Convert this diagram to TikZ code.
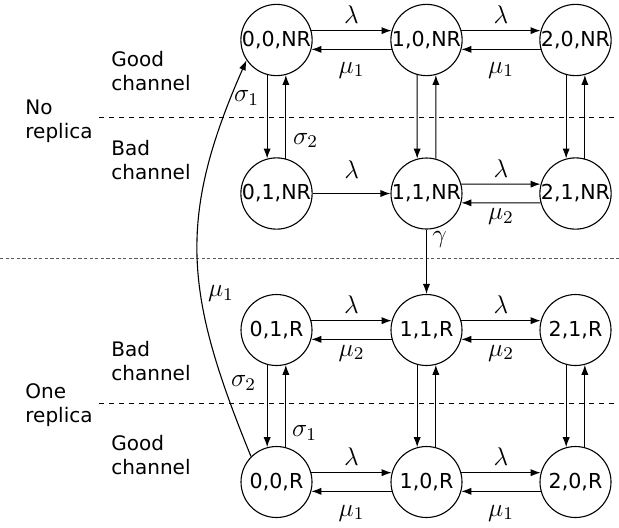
\RequirePackage{fix-cm}
\documentclass[tikz,border=0pt]{standalone}
\usepackage[no-math]{fontspec}
\setmainfont{DejaVu Sans}
\usetikzlibrary{arrows.meta}
\begin{document}
\begin{tikzpicture}[x=0.5pt,y=-0.5pt,
  st/.style={circle, draw, line width=0.55pt, minimum size=35.5pt, inner sep=0pt, font=\fontsize{10.3}{12}\selectfont},
  tr/.style={line width=0.55pt, -{Latex[length=5pt,width=3.6pt]}},
  lab/.style={inner sep=0pt, font=\fontsize{12.8}{15}\selectfont},
  side/.style={align=left, anchor=west, inner sep=0pt, font=\fontsize{10}{12}\selectfont},
  sepline/.style={line width=0.5pt, dash pattern=on 2.5pt off 2.5pt},
  midline/.style={gray!70!black, line width=0.5pt, dash pattern=on 1.6pt off 1.2pt}]
\useasboundingbox (0,0) rectangle (619,527);

% separators
\draw[sepline] (99,117) -- (619,117);
\draw[sepline] (99,403) -- (619,403);
\draw[midline] (0,258) -- (619,258);

% side texts
\node[side] (tnr) at (25,121) {No\\replica};
\node[side] (tgt) at (111,71) {Good\\channel};
\node[side] (tbt) at (111,160) {Bad\\channel};
\node[side] (tor) at (25,405) {One\\replica};
\node[side] (tbb) at (111,361) {Bad\\channel};
\node[side] (tgb) at (111,455) {Good\\channel};

% states
\node[st] (n00nr) at (276.5,40) {0,0,NR};
\node[st] (n10nr) at (426.5,40) {1,0,NR};
\node[st] (n20nr) at (575.5,40) {2,0,NR};
\node[st] (n01nr) at (276.5,193.5) {0,1,NR};
\node[st] (n11nr) at (426.5,193.5) {1,1,NR};
\node[st] (n21nr) at (575.5,193.5) {2,1,NR};
\node[st] (n01r) at (276.5,330) {0,1,R};
\node[st] (n11r) at (426.5,330) {1,1,R};
\node[st] (n21r) at (575.5,330) {2,1,R};
\node[st] (n00r) at (276.5,482) {0,0,R};
\node[st] (n10r) at (426.5,482) {1,0,R};
\node[st] (n20r) at (575.5,482) {2,0,R};

% row 1
\draw[tr] (n00nr.15) -- (n10nr.165);
\draw[tr] (n10nr.195) -- (n00nr.345);
\path (n00nr) -- node[lab, yshift=12.5pt] {$\lambda$} (n10nr);
\path (n00nr) -- node[lab, yshift=-15pt] {$\mu_1$} (n10nr);
\draw[tr] (n10nr.15) -- (n20nr.165);
\draw[tr] (n20nr.195) -- (n10nr.345);
\path (n10nr) -- node[lab, yshift=12.5pt] {$\lambda$} (n20nr);
\path (n10nr) -- node[lab, yshift=-15pt] {$\mu_1$} (n20nr);

% row 2
\draw[tr] (n01nr) -- (n11nr);
\path (n01nr) -- node[lab, yshift=12pt] {$\lambda$} (n11nr);
\draw[tr] (n11nr.15) -- (n21nr.165);
\draw[tr] (n21nr.195) -- (n11nr.345);
\path (n11nr) -- node[lab, yshift=12.5pt] {$\lambda$} (n21nr);
\path (n11nr) -- node[lab, yshift=-11.5pt] {$\mu_2$} (n21nr);

% row 3
\draw[tr] (n01r.15) -- (n11r.165);
\draw[tr] (n11r.195) -- (n01r.345);
\path (n01r) -- node[lab, yshift=12.5pt] {$\lambda$} (n11r);
\path (n01r) -- node[lab, yshift=-11.5pt] {$\mu_2$} (n11r);
\draw[tr] (n11r.15) -- (n21r.165);
\draw[tr] (n21r.195) -- (n11r.345);
\path (n11r) -- node[lab, yshift=12.5pt] {$\lambda$} (n21r);
\path (n11r) -- node[lab, yshift=-11.5pt] {$\mu_2$} (n21r);

% row 4
\draw[tr] (n00r.15) -- (n10r.165);
\draw[tr] (n10r.195) -- (n00r.345);
\path (n00r) -- node[lab, yshift=12.5pt] {$\lambda$} (n10r);
\path (n00r) -- node[lab, yshift=-15.5pt] {$\mu_1$} (n10r);
\draw[tr] (n10r.15) -- (n20r.165);
\draw[tr] (n20r.195) -- (n10r.345);
\path (n10r) -- node[lab, yshift=12.5pt] {$\lambda$} (n20r);
\path (n10r) -- node[lab, yshift=-15.5pt] {$\mu_1$} (n20r);

% vertical, no replica
\draw[tr] (n00nr.255) -- (n01nr.105);
\draw[tr] (n01nr.75) -- (n00nr.285);
\path (n00nr.center) -- (n01nr.center) node[lab, pos=0.38, xshift=-15pt] {$\sigma_1$};
\path (n00nr.center) -- (n01nr.center) node[lab, pos=0.655, xshift=14.5pt] {$\sigma_2$};
\draw[tr] (n10nr.255) -- (n11nr.105);
\draw[tr] (n11nr.75) -- (n10nr.285);
\draw[tr] (n20nr.255) -- (n21nr.105);
\draw[tr] (n21nr.75) -- (n20nr.285);

% vertical, one replica
\draw[tr] (n01r.255) -- (n00r.105);
\draw[tr] (n00r.75) -- (n01r.285);
\path (n01r.center) -- (n00r.center) node[lab, pos=0.35, xshift=-16.5pt] {$\sigma_2$};
\path (n01r.center) -- (n00r.center) node[lab, pos=0.68, xshift=14pt] {$\sigma_1$};
\draw[tr] (n11r.255) -- (n10r.105);
\draw[tr] (n10r.75) -- (n11r.285);
\draw[tr] (n21r.255) -- (n20r.105);
\draw[tr] (n20r.75) -- (n21r.285);

% gamma
\draw[tr] (n11nr.south) -- (n11r.north);
\path (n11nr.center) -- (n11r.center) node[lab, pos=0.335, xshift=6.5pt] {$\gamma$};

% return curve
\draw[tr] (n00r.135) .. controls (185,295) and (176,220) .. (n00nr.214)
  node[lab, pos=0.4, anchor=west, xshift=3.5pt] {$\mu_1$};
\end{tikzpicture}
\end{document}
